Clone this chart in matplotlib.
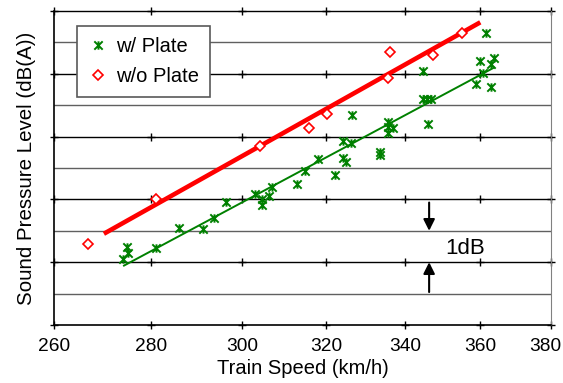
import numpy as np
import matplotlib
matplotlib.use('Agg')
import matplotlib.pyplot as plt
from matplotlib.path import Path
from matplotlib.transforms import ScaledTranslation
from matplotlib.ticker import FixedLocator, NullLocator, FixedFormatter

plt.rcParams['font.family'] = ['Liberation Sans', 'DejaVu Sans']

# measured levels (dB(A), relative scale) vs train speed (km/h)
with_speed = [274.0, 274.8, 275.1, 281.0, 285.9, 291.3, 293.8, 296.4, 303.1, 304.6,
              304.6, 306.3, 307.1, 313.0, 314.9, 318.1, 322.2, 324.2, 324.9, 324.2,
              326.1, 326.5, 333.4, 333.4, 335.6, 335.6, 336.8, 335.5, 344.5, 344.7,
              345.6, 346.6, 345.8, 361.6, 359.8, 363.8, 362.9, 360.8, 358.8, 362.9]
with_level = [82.09, 82.48, 82.30, 82.46, 83.08, 83.07, 83.40, 83.91, 84.16, 84.00,
              83.81, 84.12, 84.38, 84.48, 84.90, 85.30, 84.78, 85.31, 85.20, 85.86,
              85.81, 86.69, 85.52, 85.40, 86.46, 86.31, 86.27, 86.10, 88.09, 87.20,
              87.20, 87.20, 86.39, 89.29, 88.41, 88.51, 88.31, 88.01, 87.68, 87.57]
without_speed = [266.7, 280.9, 304.2, 315.9, 320.1, 335.6, 336.0, 347.1, 354.9]
without_level = [82.57, 84.01, 85.71, 86.26, 86.71, 87.88, 88.70, 88.60, 89.29]

# speed range covered by each regression line
with_fit_range = [274, 364]
without_fit_range = [270, 360]

x_ticks = [260, 280, 300, 320, 340, 360, 380]
y_major = [80, 82, 84, 86, 88, 90]
y_minor = [81, 83, 85, 87, 89]

# excel-like star marker: an X with a vertical bar
star = Path([(-1, -1), (1, 1), (-1, 1), (1, -1), (0, -1), (0, 1)],
            [Path.MOVETO, Path.LINETO, Path.MOVETO, Path.LINETO, Path.MOVETO, Path.LINETO])

fig = plt.figure(figsize=(5.63, 3.83), dpi=100)
ax = fig.add_axes([0.0968, 0.1514, 0.8819, 0.8199])
ax.set_xscale('log')
ax.set_xlim(260, 380)
ax.set_ylim(80, 90)

for y in y_minor:
    ax.axhline(y, color='#606060', lw=1, zorder=1)
for y in y_major[1:]:
    ax.axhline(y, color='black', lw=1, zorder=1, clip_on=False)

gx, gy = np.meshgrid(x_ticks, y_major)
ax.plot(gx.ravel(), gy.ravel(), ls='none', marker='+', ms=5.5, mew=1,
        color='black', clip_on=False, zorder=2)

# regression lines in log(speed)
for sx, sy, rng, c, lw in [(with_speed, with_level, with_fit_range, '#008000', 1.4),
                           (without_speed, without_level, without_fit_range, '#ff0000', 3.3)]:
    k, b = np.polyfit(np.log(sx), sy, 1)
    xr = np.array(rng, dtype=float)
    ax.plot(xr, k * np.log(xr) + b, color=c, lw=lw, zorder=3, solid_capstyle='butt')

ax.plot(with_speed, with_level, ls='none', marker=star, ms=6, mew=1.4,
        color='#008000', zorder=4, label='w/ Plate')
ax.plot(without_speed, without_level, ls='none', marker='D', ms=5.3, mew=1.2,
        mfc='white', mec='#ff0000', zorder=4, label='w/o Plate')

# 1 dB scale marker
arrow = dict(arrowstyle='-|>', color='black', lw=1.5, mutation_scale=17, shrinkA=0, shrinkB=0)
ax.annotate('', xy=(346.2, 83.0), xytext=(346.2, 83.9), arrowprops=arrow)
ax.annotate('', xy=(346.2, 82.0), xytext=(346.2, 81.05), arrowprops=arrow)
ax.text(350.4, 82.45, '1dB', fontsize=16, va='center', ha='left')

ax.xaxis.set_major_locator(FixedLocator(x_ticks))
ax.xaxis.set_major_formatter(FixedFormatter([str(t) for t in x_ticks]))
ax.xaxis.set_minor_locator(NullLocator())
ax.set_yticks([])
ax.tick_params(axis='x', length=0, pad=9, labelsize=13.8)

# keep the last label inside the figure
last = ax.get_xticklabels()[-1]
last.set_transform(last.get_transform() + ScaledTranslation(-6 / 100, 0, fig.dpi_scale_trans))

ax.spines['top'].set_visible(False)
ax.spines['right'].set_color('#808080')
for s in ['left', 'bottom']:
    ax.spines[s].set_linewidth(1.2)

ax.set_xlabel('Train Speed (km/h)', fontsize=14.5, labelpad=3)
ax.set_ylabel('Sound Pressure Level (dB(A))', fontsize=14.8, labelpad=13)

leg = ax.legend(loc='upper left', bbox_to_anchor=(0.0447, 0.953), borderaxespad=0,
                fontsize=14.5, fancybox=False, framealpha=1, edgecolor='#595959',
                handlelength=1.0, handletextpad=0.4, labelspacing=0.55, borderpad=0.55)
leg.get_frame().set_linewidth(1.2)
leg.set_zorder(5)

fig.savefig('out.png', dpi=100)
